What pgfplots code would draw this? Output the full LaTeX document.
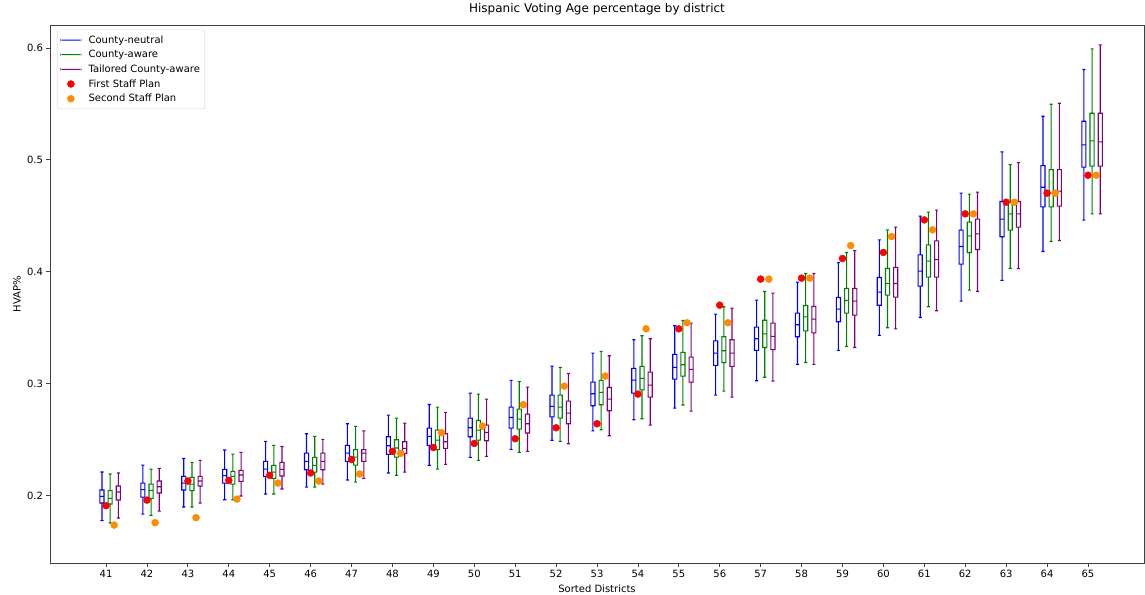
\documentclass[border=0pt]{standalone}
\usepackage{fontspec}
\setmainfont{DejaVu Sans}
\usepackage{pgfplots}
\usepackage{pgfplotstable}
\pgfplotsset{compat=1.18}

\definecolor{mplorange}{RGB}{255,140,0}
\definecolor{mplgreen}{RGB}{0,128,0}
\definecolor{mplpurple}{RGB}{128,0,128}

% County-neutral
\pgfplotstableread{
d  lw     q1     med    q3     uw
41 0.1777 0.1935 0.1994 0.2051 0.2212
42 0.1836 0.1988 0.2054 0.2113 0.2274
43 0.1899 0.2051 0.2113 0.2173 0.2333
44 0.1964 0.2113 0.2179 0.2235 0.2408
45 0.2015 0.2173 0.2238 0.2307 0.2485
46 0.2077 0.2232 0.2307 0.2381 0.2554
47 0.2140 0.2307 0.2381 0.2449 0.2643
48 0.2203 0.2369 0.2446 0.2527 0.2720
49 0.2271 0.2449 0.2530 0.2604 0.2815
50 0.2342 0.2527 0.2607 0.2693 0.2917
51 0.2414 0.2604 0.2699 0.2792 0.3030
52 0.2494 0.2705 0.2798 0.2899 0.3158
53 0.2580 0.2804 0.2911 0.3015 0.3274
54 0.2679 0.2917 0.3033 0.3137 0.3393
55 0.2783 0.3042 0.3146 0.3262 0.3518
56 0.2899 0.3164 0.3274 0.3384 0.3622
57 0.3027 0.3298 0.3402 0.3506 0.3747
58 0.3173 0.3420 0.3527 0.3631 0.3908
59 0.3298 0.3554 0.3667 0.3771 0.4083
60 0.3432 0.3702 0.3818 0.3949 0.4286
61 0.3592 0.3872 0.4006 0.4152 0.4497
62 0.3738 0.4069 0.4226 0.4372 0.4703
63 0.3923 0.4313 0.4471 0.4628 0.5071
64 0.4182 0.4580 0.4756 0.4949 0.5390
65 0.4462 0.4935 0.5134 0.5345 0.5807
}\neutral

% County-aware
\pgfplotstableread{
d  lw     q1     med    q3     uw
41 0.1756 0.1926 0.1976 0.2045 0.2194
42 0.1824 0.1976 0.2048 0.2104 0.2238
43 0.1899 0.2045 0.2104 0.2164 0.2298
44 0.1964 0.2104 0.2173 0.2217 0.2372
45 0.2015 0.2155 0.2211 0.2271 0.2449
46 0.2077 0.2211 0.2271 0.2342 0.2530
47 0.2122 0.2274 0.2345 0.2411 0.2619
48 0.2182 0.2345 0.2426 0.2500 0.2693
49 0.2238 0.2411 0.2497 0.2586 0.2792
50 0.2315 0.2497 0.2586 0.2672 0.2908
51 0.2387 0.2595 0.2685 0.2774 0.3021
52 0.2485 0.2693 0.2792 0.2899 0.3146
53 0.2589 0.2813 0.2923 0.3030 0.3289
54 0.2688 0.2946 0.3048 0.3155 0.3429
55 0.2810 0.3069 0.3170 0.3280 0.3565
56 0.2935 0.3190 0.3295 0.3420 0.3688
57 0.3058 0.3324 0.3446 0.3567 0.3824
58 0.3190 0.3473 0.3598 0.3699 0.3985
59 0.3333 0.3631 0.3744 0.3851 0.4173
60 0.3500 0.3792 0.3896 0.4030 0.4375
61 0.3688 0.3953 0.4095 0.4241 0.4533
62 0.3837 0.4173 0.4321 0.4444 0.4694
63 0.4030 0.4372 0.4518 0.4619 0.4958
64 0.4271 0.4580 0.4703 0.4913 0.5497
65 0.4518 0.4944 0.5170 0.5417 0.5991
}\aware

% Tailored County-aware
\pgfplotstableread{
d  lw     q1     med    q3     uw
41 0.1801 0.1962 0.2033 0.2087 0.2203
42 0.1863 0.2024 0.2080 0.2131 0.2244
43 0.1935 0.2087 0.2131 0.2173 0.2315
44 0.1997 0.2128 0.2185 0.2226 0.2387
45 0.2060 0.2176 0.2235 0.2298 0.2440
46 0.2104 0.2232 0.2307 0.2381 0.2503
47 0.2155 0.2307 0.2381 0.2411 0.2580
48 0.2211 0.2378 0.2423 0.2482 0.2649
49 0.2280 0.2423 0.2482 0.2554 0.2744
50 0.2351 0.2491 0.2565 0.2631 0.2863
51 0.2396 0.2560 0.2643 0.2729 0.2970
52 0.2464 0.2643 0.2738 0.2845 0.3092
53 0.2536 0.2759 0.2863 0.2967 0.3250
54 0.2631 0.2881 0.2988 0.3104 0.3402
55 0.2756 0.3015 0.3128 0.3238 0.3542
56 0.2881 0.3155 0.3274 0.3393 0.3676
57 0.3024 0.3305 0.3423 0.3542 0.3810
58 0.3173 0.3455 0.3577 0.3690 0.3985
59 0.3324 0.3613 0.3738 0.3851 0.4190
60 0.3491 0.3774 0.3896 0.4039 0.4399
61 0.3652 0.3953 0.4110 0.4277 0.4551
62 0.3824 0.4199 0.4339 0.4471 0.4712
63 0.4030 0.4399 0.4518 0.4628 0.4976
64 0.4280 0.4587 0.4721 0.4913 0.5506
65 0.4518 0.4944 0.5161 0.5417 0.6027
}\tailored

% staff plans
\pgfplotstableread{
d  first  second
41 0.1911 0.1738
42 0.1961 0.1759
43 0.2131 0.1804
44 0.2137 0.1970
45 0.2182 0.2113
46 0.2203 0.2131
47 0.2324 0.2194
48 0.2396 0.2378
49 0.2431 0.2563
50 0.2467 0.2622
51 0.2509 0.2813
52 0.2607 0.2979
53 0.2643 0.3069
54 0.2908 0.3491
55 0.3491 0.3545
56 0.3702 0.3545
57 0.3935 0.3935
58 0.3944 0.3944
59 0.4119 0.4235
60 0.4173 0.4315
61 0.4464 0.4375
62 0.4518 0.4518
63 0.4622 0.4622
64 0.4703 0.4703
65 0.4863 0.4863
}\staff

% one box-and-whisker from row #2 of table #1, centred at x = #3, colour #4.
% Every line is a thin filled rectangle (half width 0.55pt: 0.0134 x-units,
% 0.00049 y-units), so nothing is stroked.
\newcommand\boxrow[4]{%
  \pgfplotstablegetelem{#2}{lw}\of{#1}\let\bxLW\pgfplotsretval
  \pgfplotstablegetelem{#2}{q1}\of{#1}\let\bxQA\pgfplotsretval
  \pgfplotstablegetelem{#2}{med}\of{#1}\let\bxMED\pgfplotsretval
  \pgfplotstablegetelem{#2}{q3}\of{#1}\let\bxQB\pgfplotsretval
  \pgfplotstablegetelem{#2}{uw}\of{#1}\let\bxUW\pgfplotsretval
  \pgfmathsetmacro\bxMid{#3}%
  \pgfmathsetmacro\bxLo{#3-0.05-0.0134}%
  \pgfmathsetmacro\bxLi{#3-0.05+0.0134}%
  \pgfmathsetmacro\bxRi{#3+0.05-0.0134}%
  \pgfmathsetmacro\bxRo{#3+0.05+0.0134}%
  \pgfmathsetmacro\bxMl{#3-0.0134}%
  \pgfmathsetmacro\bxMr{#3+0.0134}%
  \pgfmathsetmacro\bxCl{#3-0.025-0.0134}%
  \pgfmathsetmacro\bxCr{#3+0.025+0.0134}%
  \pgfmathsetmacro\bxQAlo{\bxQA-0.00049}%
  \pgfmathsetmacro\bxQAhi{\bxQA+0.00049}%
  \pgfmathsetmacro\bxQBlo{\bxQB-0.00049}%
  \pgfmathsetmacro\bxQBhi{\bxQB+0.00049}%
  \pgfmathsetmacro\bxMEDlo{\bxMED-0.00049}%
  \pgfmathsetmacro\bxMEDhi{\bxMED+0.00049}%
  \pgfmathsetmacro\bxLWlo{\bxLW-0.00049}%
  \pgfmathsetmacro\bxLWhi{\bxLW+0.00049}%
  \pgfmathsetmacro\bxUWlo{\bxUW-0.00049}%
  \pgfmathsetmacro\bxUWhi{\bxUW+0.00049}%
  \edef\bxPlot{\noexpand\addplot[fill=#4, draw=none, forget plot,
      unbounded coords=jump] coordinates {
    (\bxLo,\bxQAlo) (\bxLi,\bxQAlo) (\bxLi,\bxQBhi) (\bxLo,\bxQBhi) (\bxMid,nan)
    (\bxRi,\bxQAlo) (\bxRo,\bxQAlo) (\bxRo,\bxQBhi) (\bxRi,\bxQBhi) (\bxMid,nan)
    (\bxLo,\bxQAlo) (\bxRo,\bxQAlo) (\bxRo,\bxQAhi) (\bxLo,\bxQAhi) (\bxMid,nan)
    (\bxLo,\bxQBlo) (\bxRo,\bxQBlo) (\bxRo,\bxQBhi) (\bxLo,\bxQBhi) (\bxMid,nan)
    (\bxLo,\bxMEDlo) (\bxRo,\bxMEDlo) (\bxRo,\bxMEDhi) (\bxLo,\bxMEDhi) (\bxMid,nan)
    (\bxMl,\bxLWlo) (\bxMr,\bxLWlo) (\bxMr,\bxQA) (\bxMl,\bxQA) (\bxMid,nan)
    (\bxMl,\bxQB) (\bxMr,\bxQB) (\bxMr,\bxUWhi) (\bxMl,\bxUWhi) (\bxMid,nan)
    (\bxCl,\bxLWlo) (\bxCr,\bxLWlo) (\bxCr,\bxLWhi) (\bxCl,\bxLWhi) (\bxMid,nan)
    (\bxCl,\bxUWlo) (\bxCr,\bxUWlo) (\bxCr,\bxUWhi) (\bxCl,\bxUWhi)
  };}%
  \bxPlot
}

\pgfplotsset{
  linelegend/.style={legend image code/.code={%
    \fill[##1] (0pt,-0.55pt) rectangle (21pt,0.55pt); \path (26pt,0pt);}},
  dotlegend/.style={legend image code/.code={%
    \draw[##1] plot coordinates {(10.5pt,0pt)}; \path (0pt,0pt) (26pt,0pt);}},
}

\begin{document}
\begin{tikzpicture}
\begin{axis}[
  at={(0,0)}, anchor=south west,
  scale only axis,
  width=1094pt, height=538pt,
  xmin=39.63, xmax=66.37,
  ymin=0.1399, ymax=0.6205,
  xtick={41,...,65},
  ytick={0.2,0.3,0.4,0.5,0.6},
  yticklabel style={/pgf/number format/.cd, fixed, fixed zerofill, precision=1},
  /pgf/number format/assume math mode=true,
  tick align=outside, tick pos=left,
  major tick length=3.5pt,
  tick style={black!75, line width=0.8pt},
  axis line style={black!75, line width=0.8pt},
  ticklabel style={font=\fontsize{10}{12}\selectfont},
  title={Hispanic Voting Age percentage by district},
  title style={font=\fontsize{12}{14}\selectfont, at={(axis description cs:0.5,1.0186)}, anchor=center},
  xlabel={Sorted Districts},
  xlabel style={font=\fontsize{10}{12}\selectfont, at={(axis description cs:0.5,-0.0483)}, anchor=center},
  ylabel={HVAP\%},
  ylabel style={font=\fontsize{10}{12}\selectfont, at={(axis description cs:-0.0302,0.5)}, anchor=center},
  legend style={at={(axis description cs:0.0064,0.991)}, anchor=north west,
    draw=black!18, rounded corners=2pt, font=\fontsize{10}{12}\selectfont,
    row sep=1.6pt, inner xsep=3pt, inner ysep=3.5pt},
  legend cell align=left,
]
\pgfplotsinvokeforeach{0,...,24}{
  \boxrow{\neutral}{#1}{40.9+#1}{blue}
  \boxrow{\aware}{#1}{41.1+#1}{mplgreen}
  \boxrow{\tailored}{#1}{41.3+#1}{mplpurple}
}
\addlegendimage{linelegend, fill=blue, draw=none}
\addlegendentry{County-neutral}
\addlegendimage{linelegend, fill=mplgreen, draw=none}
\addlegendentry{County-aware}
\addlegendimage{linelegend, fill=mplpurple, draw=none}
\addlegendentry{Tailored County-aware}
\addplot[dotlegend, only marks, mark=*, mark size=3.5pt,
  mark options={draw=red, fill=red}] table[x=d, y=first] {\staff};
\addlegendentry{First Staff Plan}
\addplot[dotlegend, only marks, mark=*, mark size=3.5pt,
  mark options={draw=mplorange, fill=mplorange}] table[x expr=\thisrow{d}+0.2, y=second] {\staff};
\addlegendentry{Second Staff Plan}
\end{axis}
\pgfresetboundingbox
\path (-50pt,-31pt) rectangle (1095pt,563pt);
\end{tikzpicture}
\end{document}
